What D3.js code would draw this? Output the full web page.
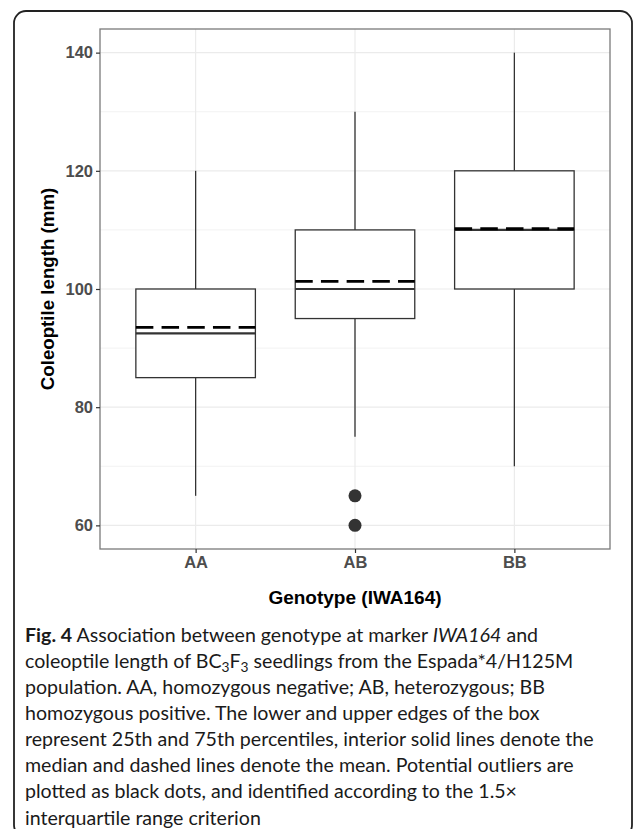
<!DOCTYPE html>
<html><head><meta charset="utf-8">
<script src="https://cdn.jsdelivr.net/npm/d3@7"></script>
<style>
html,body{margin:0;padding:0;background:#fff;}
svg{display:block;}
</style></head>
<body>
<svg id="chart" width="633" height="829"></svg>
<script>
// ---- data ----
const categories = ["AA", "AB", "BB"];
const lowerWhisker = [65, 75, 70];
const q1 = [85, 95, 100];
const median = [92.5, 100, 110];
const q3 = [100, 110, 120];
const upperWhisker = [120, 130, 140];
const mean = [93.5, 101.3, 110.2];
const outliers = [[], [65, 60], []];
const yTicks = [60, 80, 100, 120, 140];
const yMinorTicks = [70, 90, 110, 130];
const yTitle = "Coleoptile length (mm)";
const xTitle = "Genotype (IWA164)";

const svg = d3.select("#chart");
const panel = {left: 100, top: 29, right: 610, bottom: 549};
const axisFont = "'Liberation Sans', Arial, Helvetica, sans-serif";

// outer frame
svg.append("rect")
  .attr("x", 14).attr("y", 11).attr("width", 618).attr("height", 826)
  .attr("rx", 12).attr("ry", 12)
  .attr("fill", "none").attr("stroke", "#222").attr("stroke-width", 1.8);

const x = d3.scalePoint().domain(categories).range([panel.left, panel.right]).padding(0.6);
const y = d3.scaleLinear().domain([56, 144]).range([panel.bottom, panel.top]);
const step = x.step();
const boxW = step * 0.75;

const g = svg.append("g");

// grid
g.selectAll(".minor").data(yMinorTicks).join("line")
  .attr("x1", panel.left).attr("x2", panel.right)
  .attr("y1", d => y(d)).attr("y2", d => y(d))
  .attr("stroke", "#f2f2f2").attr("stroke-width", 1);
g.selectAll(".major").data(yTicks).join("line")
  .attr("x1", panel.left).attr("x2", panel.right)
  .attr("y1", d => y(d)).attr("y2", d => y(d))
  .attr("stroke", "#ebebeb").attr("stroke-width", 1.2);
g.selectAll(".vmajor").data(categories).join("line")
  .attr("x1", d => x(d)).attr("x2", d => x(d))
  .attr("y1", panel.top).attr("y2", panel.bottom)
  .attr("stroke", "#ebebeb").attr("stroke-width", 1.2);

// boxes
const boxes = categories.map((c, i) => ({c, lo: lowerWhisker[i], q1: q1[i], med: median[i], q3: q3[i], hi: upperWhisker[i], mean: mean[i], out: outliers[i]}));
const bg = g.selectAll(".box").data(boxes).join("g");
bg.append("line")
  .attr("x1", d => x(d.c)).attr("x2", d => x(d.c))
  .attr("y1", d => y(d.q3)).attr("y2", d => y(d.hi))
  .attr("stroke", "#333").attr("stroke-width", 1.3);
bg.append("line")
  .attr("x1", d => x(d.c)).attr("x2", d => x(d.c))
  .attr("y1", d => y(d.q1)).attr("y2", d => y(d.lo))
  .attr("stroke", "#333").attr("stroke-width", 1.3);
bg.append("rect")
  .attr("x", d => x(d.c) - boxW / 2).attr("width", boxW)
  .attr("y", d => y(d.q3)).attr("height", d => y(d.q1) - y(d.q3))
  .attr("fill", "#fff").attr("stroke", "#333").attr("stroke-width", 1.3);
bg.append("line")
  .attr("x1", d => x(d.c) - boxW / 2).attr("x2", d => x(d.c) + boxW / 2)
  .attr("y1", d => y(d.med)).attr("y2", d => y(d.med))
  .attr("stroke", "#333").attr("stroke-width", 2.2);
bg.append("line")
  .attr("x1", d => x(d.c) - boxW / 2).attr("x2", d => x(d.c) + boxW / 2)
  .attr("y1", d => y(d.mean)).attr("y2", d => y(d.mean))
  .attr("stroke", "#000").attr("stroke-width", 2.8)
  .attr("stroke-dasharray", "17.5,8.2");
bg.selectAll("circle").data(d => d.out.map(v => ({c: d.c, v}))).join("circle")
  .attr("cx", d => x(d.c)).attr("cy", d => y(d.v)).attr("r", 6.5)
  .attr("fill", "#333");

// panel border
g.append("rect")
  .attr("x", panel.left).attr("y", panel.top)
  .attr("width", panel.right - panel.left).attr("height", panel.bottom - panel.top)
  .attr("fill", "none").attr("stroke", "#7a7a7a").attr("stroke-width", 1.3);

// axes
const yAxis = d3.axisLeft(y).tickValues(yTicks).tickSize(4).tickPadding(3).tickSizeOuter(0);
const ya = svg.append("g").attr("transform", `translate(${panel.left},0)`).call(yAxis);
ya.select(".domain").remove();
ya.selectAll(".tick line").attr("stroke", "#333").attr("stroke-width", 1.2);
ya.selectAll(".tick text").attr("fill", "#4d4d4d").style("font-family", axisFont)
  .style("font-size", "16.5px").style("font-weight", "bold");

const xAxis = d3.axisBottom(x).tickSize(4).tickPadding(3).tickSizeOuter(0);
const xa = svg.append("g").attr("transform", `translate(0,${panel.bottom})`).call(xAxis);
xa.select(".domain").remove();
xa.selectAll(".tick line").attr("stroke", "#333").attr("stroke-width", 1.2);
xa.selectAll(".tick text").attr("fill", "#4d4d4d").style("font-family", axisFont)
  .style("font-size", "16.5px").style("font-weight", "bold");

// titles
svg.append("text")
  .attr("transform", `translate(47,${(panel.top + panel.bottom) / 2}) rotate(-90)`)
  .attr("text-anchor", "middle").attr("dy", "0.35em")
  .style("font-family", axisFont).style("font-size", "18.7px").style("font-weight", "bold")
  .attr("fill", "#000").text(yTitle);
svg.append("text")
  .attr("x", (panel.left + panel.right) / 2).attr("y", 597)
  .attr("text-anchor", "middle").attr("dy", "0.35em")
  .style("font-family", axisFont).style("font-size", "19px").style("font-weight", "bold")
  .attr("fill", "#000").text(xTitle);

// caption
const capLines = [
  [{t: "Fig. 4", b: true}, {t: " Association between genotype at marker "}, {t: "IWA164", i: true}, {t: " and"}],
  [{t: "coleoptile length of BC"}, {t: "3", sub: true}, {t: "F"}, {t: "3", sub: true}, {t: " seedlings from the Espada*4/H125M"}],
  [{t: "population. AA, homozygous negative; AB, heterozygous; BB"}],
  [{t: "homozygous positive. The lower and upper edges of the box"}],
  [{t: "represent 25th and 75th percentiles, interior solid lines denote the"}],
  [{t: "median and dashed lines denote the mean. Potential outliers are"}],
  [{t: "plotted as black dots, and identified according to the 1.5\u00d7"}],
  [{t: "interquartile range criterion"}]
];
const capFont = "Lato, 'Open Sans', sans-serif";
let fs = 18;
const cap = svg.append("g");
function drawCaption(size) {
  cap.selectAll("*").remove();
  capLines.forEach((line, li) => {
    const t = cap.append("text")
      .attr("x", 25).attr("y", 635 + li * 26.1).attr("dy", "0.35em")
      .style("font-family", capFont).style("font-size", size + "px")
      .attr("fill", "#1a1a1a");
    line.forEach(seg => {
      const s = t.append("tspan").text(seg.t);
      if (seg.b) s.style("font-weight", "bold");
      if (seg.i) s.style("font-style", "italic");
      if (seg.sub) s.style("font-size", (size * 0.7) + "px").attr("dy", "0.3em").attr("data-sub", "1");
    });
    t.selectAll("tspan").each(function(d, k, nodes) {
      const prev = k > 0 ? nodes[k - 1] : null;
      if (prev && prev.getAttribute("data-sub") && !this.getAttribute("data-sub")) {
        d3.select(this).attr("dy", "-0.21em");
      }
    });
  });
}
drawCaption(fs);
const w5 = cap.selectAll("text").nodes()[4].getComputedTextLength();
fs = fs * 569 / w5;
drawCaption(fs);
</script>
</body></html>
